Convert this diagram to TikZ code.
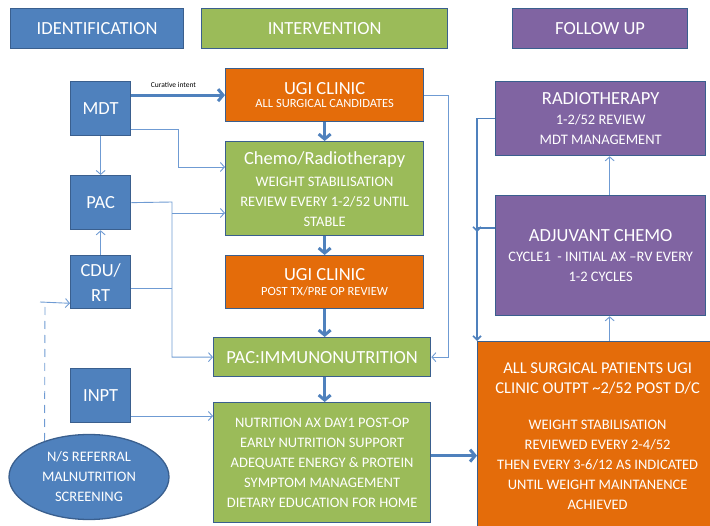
\documentclass[tikz,border=0pt]{standalone}
\usepackage{fontspec}
\setmainfont{Carlito}
\usetikzlibrary{shapes.geometric,arrows.meta}
\definecolor{bl}{HTML}{4F81BD}
\definecolor{bdr}{HTML}{3A5F8E}
\definecolor{gr}{HTML}{9BBB59}
\definecolor{orn}{HTML}{E46C0A}
\definecolor{pu}{HTML}{8064A2}
\definecolor{ln}{HTML}{6F9BD3}
\newcommand{\fBig}{\fontsize{18.5}{22}\selectfont}
\newcommand{\fMid}{\fontsize{14.5}{20}\selectfont}
\newcommand{\fSml}{\fontsize{12.5}{16}\selectfont}
\begin{document}
\begin{tikzpicture}[x=1pt,y=-1pt,
  box/.style={draw=bdr, line width=1.3pt, text=white, inner sep=0pt, align=center, anchor=north west},
  thickarr/.style={draw=bl, line width=3pt, -{Straight Barb[length=5pt,width=12pt]}},
  thinarr/.style={draw=ln, line width=0.9pt, -{Straight Barb[length=4pt,width=9pt]}},
  thinln/.style={draw=ln, line width=0.9pt},
  medarr/.style={draw=bl, line width=1.6pt, -{Straight Barb[length=4pt,width=8pt]}}]
\useasboundingbox (0,0) rectangle (710,526);
% headers
\node[box, fill=bl, minimum width=173pt, minimum height=40pt, font=\fBig] (hid) at (10,8) {IDENTIFICATION};
\node[box, fill=gr, minimum width=246pt, minimum height=40pt, font=\fBig] (hin) at (201,8) {INTERVENTION};
\node[box, fill=pu, minimum width=175pt, minimum height=40pt, font=\fBig] (hfu) at (512,8) {FOLLOW UP};
% identification column
\node[box, fill=bl, minimum width=60pt, minimum height=54pt, font=\fBig] (mdt) at (70,81) {MDT};
\node[box, fill=bl, minimum width=60pt, minimum height=54pt, font=\fBig] (pac) at (70,175) {PAC};
\node[box, fill=bl, minimum width=60pt, minimum height=53pt, font=\fBig] (cdu) at (70,255) {CDU/\\[3pt]RT};
\node[box, fill=bl, minimum width=60pt, minimum height=54pt, font=\fBig] (inpt) at (70,368) {INPT};
\node[draw=bdr, line width=1.3pt, fill=bl, ellipse, text=white, align=center, inner sep=0pt,
  minimum width=160pt, minimum height=85pt, font=\fMid] (ns) at (89,477) {N/S REFERRAL\\MALNUTRITION\\SCREENING};
% intervention column
\node[box, fill=orn, minimum width=198pt, minimum height=53pt] (ugi1) at (225,68)
  {{\fBig UGI CLINIC}\\[1pt]{\fSml ALL SURGICAL CANDIDATES}};
\node[box, fill=gr, minimum width=198pt, minimum height=94pt, font=\fMid] (chemo) at (225,141)
  {{\fBig Chemo/Radiotherapy}\\[2pt]WEIGHT STABILISATION\\REVIEW EVERY 1-2/52 UNTIL\\STABLE};
\node[box, fill=orn, minimum width=198pt, minimum height=53pt] (ugi2) at (225,255)
  {{\fBig UGI CLINIC}\\[3pt]{\fSml POST TX/PRE OP REVIEW}};
\node[box, fill=gr, minimum width=217pt, minimum height=39pt, font=\fBig] (immuno) at (213,337) {PAC:IMMUNONUTRITION};
\node[box, fill=gr, minimum width=217pt, minimum height=120pt, font=\fMid] (nutr) at (213,402)
  {NUTRITION AX DAY1 POST-OP\\EARLY NUTRITION SUPPORT\\ADEQUATE ENERGY \& PROTEIN\\SYMPTOM MANAGEMENT\\DIETARY EDUCATION FOR HOME};
% follow up column
\node[box, fill=pu, minimum width=210pt, minimum height=74pt, font=\fMid] (radio) at (495,81)
  {{\fBig RADIOTHERAPY}\\1-2/52 REVIEW\\MDT MANAGEMENT};
\node[box, fill=pu, minimum width=210pt, minimum height=120pt, font=\fMid] (adj) at (495,195)
  {{\fBig ADJUVANT CHEMO}\\CYCLE1\ \ - INITIAL AX --RV EVERY\\1-2 CYCLES};
\node[box, fill=orn, minimum width=240pt, minimum height=190pt, font=\fMid] (allsurg) at (477,341)
  {{\fontsize{16.5}{22}\selectfont ALL SURGICAL PATIENTS UGI}\\{\fontsize{16.5}{22}\selectfont CLINIC OUTPT \textasciitilde2/52 POST D/C}\\[16pt]
   WEIGHT STABILISATION\\REVIEWED EVERY 2-4/52\\THEN EVERY 3-6/12 AS INDICATED\\UNTIL WEIGHT MAINTANENCE\\ACHIEVED};
% thick flow arrows
\draw[thickarr] (mdt.east |- ugi1.west) -- node[above=3pt, text=black, font=\fontsize{7.5}{9}\selectfont, pos=0.45] (cur) {Curative intent} (ugi1.west);
\draw[thickarr] (ugi1.south) -- (chemo.north);
\draw[thickarr] (chemo.south -| ugi1.south) -- (ugi2.north);
\draw[thickarr] (ugi2.south) -- (ugi2.south |- immuno.north);
\draw[thickarr] (ugi2.south |- immuno.south) -- (ugi2.south |- nutr.north);
\draw[thickarr] ([yshift=7pt]nutr.east) -- ([yshift=7pt]nutr.east -| allsurg.west);
% thin connectors
\coordinate (b1) at (178,167);
\draw[thinarr] ([yshift=7pt]mdt.south east) -| (b1) -- (b1 -| chemo.west);
\draw[thinarr] (mdt.south) -- (pac.north);
\draw[thinarr] (cdu.north) -- (pac.south);
\coordinate (bus) at (172,202);
\draw[thinarr] (pac.east) -- (bus) |- (immuno.west);
\coordinate (bj) at (172,213);
\draw[thinarr] (bj) -- (bj -| chemo.west);
\draw[thinln] ([yshift=-6pt]cdu.east) -- ([yshift=-6pt]cdu.east -| bus);
\draw[thinarr] (inpt.east |- 0,416) -- (nutr.west |- 0,416);
\coordinate (r1) at (448,95);
\draw[thinarr] (ugi1.east |- r1) -- (r1) |- (immuno.east);
\coordinate (d1) at (45,302);
\draw[draw=ln, line width=0.9pt, dash pattern=on 8pt off 6pt] (ns.141) -- (d1);
\draw[thinarr] (40,302) -- ([yshift=6pt]cdu.south west);
% follow-up connectors
\draw[thinarr] ([xshift=9pt]allsurg.north -| adj.south) -- ([xshift=9pt]adj.south);
\draw[thinarr] ([xshift=9pt]adj.north) -- ([xshift=9pt]radio.south);
\draw[medarr] (radio.west) -| (allsurg.north west);
\coordinate (aj) at (477,228);
\draw[draw=bl, line width=1.6pt] (adj.west |- aj) -- (aj);
\draw[medarr] (aj) -- ++(0,4);
\end{tikzpicture}
\end{document}
